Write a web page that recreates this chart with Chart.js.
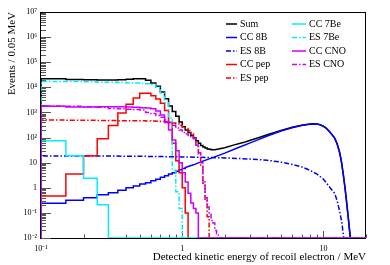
<!DOCTYPE html>
<html><head><meta charset="utf-8">
<script src="https://cdn.jsdelivr.net/npm/chart.js@4"></script>
<style>html,body{margin:0;padding:0;background:#fff;}#wrap{width:390px;height:265px;}</style>
</head><body><div id="wrap"><canvas id="c" width="390" height="265"></canvas></div>
<script>
// ---- data ----
const binEdges = [0.10,0.15,0.20,0.25,0.30,0.35,0.40,0.45,0.50,0.55,0.60,0.65,0.70,0.75,0.80,0.85,0.90,0.95,1.00,1.05,1.10,1.15,1.20,1.25,1.30,1.35,1.40,1.45,1.50,1.55,1.60,1.65,1.70,1.75,1.80,1.85,1.90,1.95,2.00];
const seriesNames = ['Sum','CC 8B','ES 8B','CC pep','ES pep','CC 7Be','ES 7Be','CC CNO','ES CNO'];
const xTickValues = [0.1, 1, 10];
const xTickLabels = ['10\u207B\u00B9', '1', '10'];
const yTickValues = [0.01,0.1,1,10,100,1e3,1e4,1e5,1e6,1e7];
const yTickLabels = ['10\u207B\u00B2','10\u207B\u00B9','1','10','10\u00B2','10\u00B3','10\u2074','10\u2075','10\u2076','10\u2077'];
const xMin = 0.1, xMax = 20, yMin = 0.01, yMax = 1e7;

const sumBins = [22000,20500,20000,19500,19500,20000,21000,22000,22000,19000,15000,11000,6500,3500,1800,1100,700,420,270,200,160,120,95,75,60,48,42,38,35,34,33,33];
const sumSmoothE = [1.70,2.0,2.3,2.7,3.0,3.5,4.0,5.0,6.0,7.0,8.0,8.6,9.2,9.9,10.4,11.0,11.5,12.0,12.5,13.0,13.4,13.8,14.2,14.6,15.0,15.3,15.5];
const sumSmoothV = [33,39,50,63,76,100,130,193,256,307,345,354,343,292,242,176,131,95,55,26,11,3.5,1.0,0.25,0.06,0.02,0.01];

const cc8bBins = [0.24,0.32,0.40,0.53,0.64,0.79,1.0,1.17,1.4,1.6,1.9,2.2,2.6,3.0,3.5,4.0,4.6,5.2,5.9];
const cc8bSmoothE = [1.05,1.2,1.4,1.7,2.0,2.5,3.0,3.5,4.0,5.0,6.0,7.0,8.0,8.6,9.2,9.9,10.4,11.0,11.5,12.0,12.5,13.0,13.4,13.8,14.2,14.6,15.0,15.3,15.5];
const cc8bSmoothV = [6.4,8.2,11.5,17,24,40,60,85,115,180,245,300,340,350,340,290,240,175,130,95,55,26,11,3.5,1.0,0.25,0.06,0.02,0.01];

const es8bE = [0.10,0.3,0.5,1.0,1.5,2.0,3.0,4.0,5.0,6.0,7.0,8.0,9.0,10.0,11.0,12.0,12.5,13.0,13.5,13.9];
const es8bV = [18.5,18.3,18,17,16,15.5,14,12.5,10.5,8.5,6.8,5.0,3.5,2.2,1.1,0.6,0.3,0.12,0.04,0.01];

const ccPepBins = [0.47,3.5,19,90,300,950,2100,3800,5800,5800,4600,3400,2300,1200,400,60,12,4,1.0,0.1,0];
const esPepBins = [500,490,485,480,475,470,470,470,465,460,455,450,440,425,410,380,350,310,270,230,190,140,95,50,22,8,2,0.3,0.07,0];
const cc7BeBins = [74,19,2.4,0.21,0];
const es7BeBins = [17000,17000,16500,16000,16000,15500,15000,15000,14500,14000,13000,10000,6000,2500,600,5,0.7,0.15,0];
const ccCnoBins = [1750,1650,1650,1700,1700,1700,1650,1600,1550,1500,1400,1150,800,400,200,80,30,10,4,1.7,0.6,0.25,0.15,0.1,0];
const esCnoBins = [1800,1750,1700,1600,1450,1400,1350,1300,1250,1000,900,750,650,500,380,300,240,200,160,140,120,100,90,50,25,10,1.5,0.4,0.17,0.1,0.05,0.04,0.02,0.015,0];

// ---- build histogram outlines from the bins (empty bins drawn on the frame floor) ----
function floorY(v) { return v > yMin ? v : yMin; }
function histPoints(values, smoothE, smoothV, tailEnd) {
  const pts = [{x: binEdges[0], y: yMin}];
  (values || []).forEach((v, i) => {
    pts.push({x: binEdges[i], y: floorY(v)});
    pts.push({x: binEdges[i + 1], y: floorY(v)});
  });
  if (smoothE) smoothE.forEach((e, i) => pts.push({x: e, y: floorY(smoothV[i])}));
  if (tailEnd) pts.push({x: tailEnd, y: yMin});
  return pts;
}

const BLUE = '#0000ff', RED = '#ff0000', CYAN = '#00eeff', MAG = '#cc00ff';
const DASH = [5, 2, 1.5, 2];
function ds(i, pts, color, dash) {
  return { label: seriesNames[i], data: pts, borderColor: color, borderWidth: 1.5,
    borderDash: dash || [], pointRadius: 0, tension: 0, fill: false, order: 9 - i };
}
const datasets = [
  ds(0, histPoints(sumBins, sumSmoothE, sumSmoothV), '#000000'),
  ds(1, histPoints(cc8bBins, cc8bSmoothE, cc8bSmoothV), BLUE),
  ds(2, histPoints(null, es8bE, es8bV), BLUE, DASH),
  ds(3, histPoints(ccPepBins), RED),
  ds(4, histPoints(esPepBins), RED, DASH),
  ds(5, histPoints(cc7BeBins, null, null, xMax), CYAN),
  ds(6, histPoints(es7BeBins), CYAN, DASH),
  ds(7, histPoints(ccCnoBins, null, null, xMax), MAG),
  ds(8, histPoints(esCnoBins, null, null, xMax), MAG, DASH)
];

const SERIF = 'Liberation Serif';

const framePlugin = {
  id: 'rootFrame',
  beforeDatasetsDraw(chart) {
    const {ctx, chartArea: ca, scales: {x, y}} = chart;
    ctx.save();
    ctx.strokeStyle = '#000'; ctx.lineWidth = 1;
    ctx.strokeRect(ca.left - 0.5, ca.top + 0.5, ca.right - ca.left, ca.bottom - ca.top);
    ctx.strokeStyle = '#555';
    ctx.beginPath();
    for (let d = -2; d <= 6; d++) {
      for (let m = 1; m <= 9; m++) {
        const v = m * Math.pow(10, d);
        const py = Math.round(y.getPixelForValue(v)) + 0.5;
        const len = m === 1 ? 10 : 5;
        ctx.moveTo(ca.left, py); ctx.lineTo(ca.left + len, py);
      }
    }
    for (let d = -1; d <= 1; d++) {
      for (let m = 1; m <= 9; m++) {
        const v = m * Math.pow(10, d);
        if (v > xMax) break;
        const px = Math.round(x.getPixelForValue(v)) + 0.5;
        const len = m === 1 ? 7 : 3.5;
        ctx.moveTo(px, ca.bottom); ctx.lineTo(px, ca.bottom - len);
      }
    }
    ctx.stroke();
    ctx.restore();
  }
};

const legendPlugin = {
  id: 'rootLegend',
  afterDatasetsDraw(chart) {
    const ctx = chart.ctx;
    chart.data.datasets.forEach((d, i) => {
      const col = i < 5 ? 0 : 1;
      const row = col ? i - 5 : i;
      const lx = col ? 292 : 226;
      const len = col ? 14 : 11;
      const yy = 24 + row * 13.5;
      ctx.save();
      ctx.strokeStyle = d.borderColor; ctx.lineWidth = d.borderWidth;
      ctx.setLineDash(d.borderDash || []);
      ctx.beginPath(); ctx.moveTo(lx, yy); ctx.lineTo(lx + len, yy); ctx.stroke();
      ctx.setLineDash([]);
      ctx.fillStyle = '#000';
      ctx.font = '10px "' + SERIF + '"';
      ctx.textBaseline = 'middle'; ctx.textAlign = 'left';
      ctx.fillText(d.label, lx + len + 3, yy);
      ctx.restore();
    });
  }
};

new Chart(document.getElementById('c'), {
  type: 'line',
  data: { datasets },
  options: {
    responsive: false, animation: false, devicePixelRatio: 1,
    layout: { padding: { left: 0, right: 24, top: 12, bottom: 0 } },
    plugins: { legend: { display: false }, tooltip: { enabled: false } },
    scales: {
      x: {
        type: 'logarithmic', min: xMin, max: xMax,
        afterBuildTicks: s => { s.ticks = xTickValues.map(v => ({ value: v })); },
        afterFit: s => { s.height = 27; },
        grid: { display: false, drawTicks: false }, border: { display: false },
        ticks: { autoSkip: false, maxRotation: 0, padding: 6, color: '#000',
          font: { family: SERIF, size: 8 }, callback: (v, i) => xTickLabels[i] },
        title: { display: true, text: 'Detected kinetic energy of recoil electron / MeV', align: 'end',
          color: '#000', font: { family: SERIF, size: 11 }, padding: { top: 0, bottom: 1.4 } }
      },
      y: {
        type: 'logarithmic', min: yMin, max: yMax,
        afterBuildTicks: s => { s.ticks = yTickValues.map(v => ({ value: v })); },
        afterFit: s => { s.width = 41; },
        grid: { display: false, drawTicks: false }, border: { display: false },
        ticks: { autoSkip: false, padding: 4, color: '#000',
          font: { family: SERIF, size: 8 }, callback: (v, i) => yTickLabels[i] },
        title: { display: true, text: 'Events / 0.05 MeV', align: 'end',
          color: '#000', font: { family: SERIF, size: 11 }, padding: { top: 5.4, bottom: 0 } }
      }
    }
  },
  plugins: [framePlugin, legendPlugin]
});
</script>
</body></html>
